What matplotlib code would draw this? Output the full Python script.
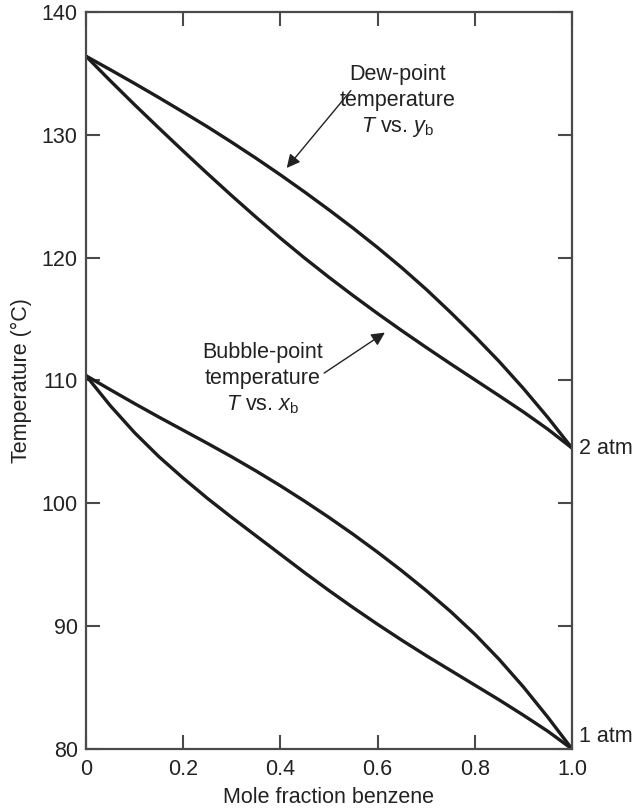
import numpy as np
import matplotlib
matplotlib.use('Agg')
import matplotlib.pyplot as plt

# FONT SETTINGS
plt.rcParams['font.family'] = ['Liberation Sans', 'DejaVu Sans']
plt.rcParams['mathtext.fontset'] = 'custom'
plt.rcParams['mathtext.rm'] = 'Liberation Sans'
plt.rcParams['mathtext.it'] = 'Liberation Sans:italic'

# DATA
x_frac = [0.00, 0.05, 0.10, 0.15, 0.20, 0.25, 0.30, 0.35, 0.40, 0.45, 0.50,
          0.55, 0.60, 0.65, 0.70, 0.75, 0.80, 0.85, 0.90, 0.95, 1.00]

dew_2atm = [136.4, 135.3, 134.18, 133.03, 131.85, 130.65, 129.39, 128.09, 126.74, 125.34, 123.89,
            122.39, 120.82, 119.17, 117.42, 115.55, 113.6, 111.55, 109.35, 107.0, 104.5]
bubble_2atm = [136.4, 134.4, 132.45, 130.55, 128.68, 126.84, 125.04, 123.29, 121.59, 119.96, 118.4,
               116.9, 115.45, 114.05, 112.69, 111.36, 110.06, 108.76, 107.44, 106.04, 104.5]

dew_1atm = [110.4, 109.25, 108.12, 107.02, 105.95, 104.88, 103.78, 102.63, 101.43, 100.17, 98.85,
            97.47, 96.02, 94.5, 92.9, 91.2, 89.35, 87.3, 85.05, 82.6, 80.0]
bubble_1atm = [110.4, 107.95, 105.75, 103.8, 102.05, 100.4, 98.85, 97.35, 95.85, 94.35, 92.9,
               91.5, 90.15, 88.85, 87.6, 86.4, 85.2, 84.0, 82.75, 81.45, 80.0]

x_ticks = [0, 0.2, 0.4, 0.6, 0.8, 1.0]
x_ticklabels = ['0', '0.2', '0.4', '0.6', '0.8', '1.0']
y_ticks = [80, 90, 100, 110, 120, 130, 140]

LINE = '#1c1c1c'
SPINE = '#4a4a4a'
TXT = '#222222'
FS = 15.5

fig = plt.figure(figsize=(6.34, 8.09), dpi=100)
ax = fig.add_axes([0.1356, 0.0742, 0.7666, 0.911])

for ys in (dew_2atm, bubble_2atm, dew_1atm, bubble_1atm):
    ax.plot(x_frac, ys, color=LINE, lw=2.4, solid_capstyle='round',
            solid_joinstyle='round')

ax.set_xlim(0, 1.0)
ax.set_ylim(80, 140)
ax.set_xticks(x_ticks)
ax.set_xticklabels(x_ticklabels)
ax.set_yticks(y_ticks)

ax.tick_params(direction='in', length=10, width=1.5, color=SPINE,
               top=True, right=True, labelsize=FS, labelcolor=TXT)
ax.tick_params(axis='x', pad=7)
ax.tick_params(axis='y', pad=6)
for s in ax.spines.values():
    s.set_color(SPINE)
    s.set_linewidth(1.6)

ax.set_xlabel('Mole fraction benzene', fontsize=FS, color=TXT, labelpad=5)
ax.set_ylabel('Temperature (°C)', fontsize=FS, color=TXT, labelpad=7)

# annotations
arrow = dict(arrowstyle='-|>', lw=1.0, color=TXT, mutation_scale=20,
             shrinkA=0, shrinkB=0)
ax.text(0.642, 132.7, 'Dew-point\ntemperature\n$T$ vs. $y_\\mathrm{b}$',
        ha='center', va='center', fontsize=FS, color=TXT, linespacing=1.28)
ax.annotate('', xy=(0.413, 127.3), xytext=(0.545, 133.6), arrowprops=arrow)

ax.text(0.364, 110.1, 'Bubble-point\ntemperature\n$T$ vs. $x_\\mathrm{b}$',
        ha='center', va='center', fontsize=FS, color=TXT, linespacing=1.28)
ax.annotate('', xy=(0.615, 113.9), xytext=(0.49, 110.6), arrowprops=arrow)

ax.annotate('2 atm', xy=(1.0, dew_2atm[-1]), xytext=(5, 0), textcoords='offset points',
            ha='left', va='center', fontsize=FS, color=TXT, annotation_clip=False)
ax.annotate('1 atm', xy=(1.0, 81.0), xytext=(5, 0), textcoords='offset points',
            ha='left', va='center', fontsize=FS, color=TXT, annotation_clip=False)

fig.savefig('out.png', dpi=100)
